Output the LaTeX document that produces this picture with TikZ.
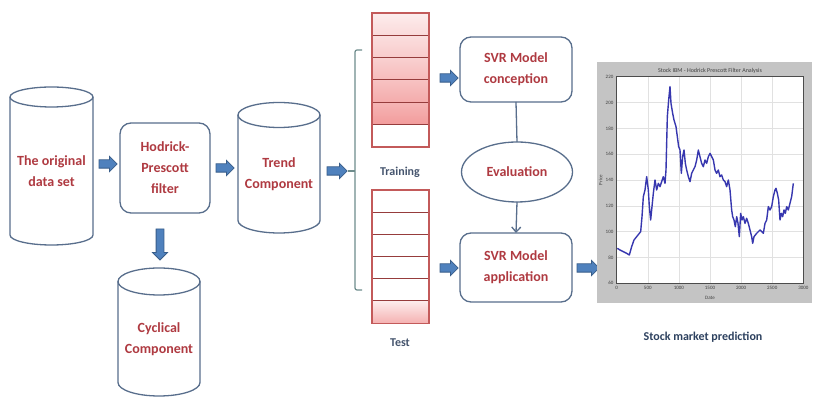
\documentclass[tikz,border=0pt]{standalone}
\usepackage{fontspec}
\setmainfont{Carlito}
\usetikzlibrary{shapes.arrows,shapes.geometric,calc,arrows.meta}
\definecolor{boxline}{RGB}{88,110,140}
\definecolor{txtred}{RGB}{175,58,65}
\definecolor{arrfill}{RGB}{79,129,189}
\definecolor{arrline}{RGB}{56,93,138}
\definecolor{lbl}{RGB}{70,85,110}
\definecolor{smpc}{RGB}{45,65,95}
\definecolor{brk}{RGB}{110,140,140}
\definecolor{stkline}{RGB}{195,90,90}
\definecolor{stksep}{RGB}{150,60,60}
\definecolor{pinkdark}{RGB}{235,100,100}
\definecolor{chartbg}{RGB}{196,196,196}
\definecolor{chartblue}{RGB}{55,55,175}
\definecolor{gridc}{RGB}{225,225,225}
\newcommand\mycyl[3]{%
  \draw[cylline] (#1.north west) -- ($(#1.south west)+(0,#3)$)
    arc[start angle=180,end angle=360,x radius=#2,y radius=#3] -- (#1.north east);
  \draw[cylline] (#1.north) ellipse[x radius=#2, y radius=#3];
}
\newcommand\shaft[1]{\rule{0pt}{#1}}
\tikzset{
  every node/.style={inner sep=0pt, outer sep=0pt},
  lbltext/.style={font=\fontsize{14}{21}\selectfont\bfseries, text=txtred, align=center},
  procbox/.style={lbltext, draw=boxline, line width=1.3pt, rounded corners=11pt, fill=white},
  cylbody/.style={lbltext},
  cylline/.style={draw=boxline, line width=1.3pt},
  blockarrow/.style={single arrow, draw=arrline, fill=arrfill, line width=0.8pt,
    single arrow head extend=3.5pt, inner sep=0pt},
  stackrow/.style={draw=stksep, line width=1pt, minimum width=57pt, minimum height=22.33pt},
  caption/.style={font=\fontsize{12}{14}\selectfont\bfseries, text=lbl},
  ticklab/.style={font=\fontsize{5}{5}\selectfont, text=black!75},
  thinconn/.style={draw=boxline, line width=1.3pt},
}
\begin{document}
\begin{tikzpicture}[x=1pt,y=1pt]
\useasboundingbox (0,0) rectangle (817,398);
\fill[white] (0,0) rectangle (817,398);

% cylinders
\node[cylbody, minimum width=83pt, minimum height=148pt] (orig) at (51.5,227) {The original\\data set};
\mycyl{orig}{41.5pt}{10pt}
\node[cylbody, minimum width=82pt, minimum height=118pt] (trend) at (279,224) {Trend\\Component};
\mycyl{trend}{41pt}{12.5pt}
\node[cylbody, minimum width=82pt, minimum height=114.5pt] (cyc) at (159,59.25) {Cyclical\\Component};
\mycyl{cyc}{41pt}{13.5pt}

% boxes
\node[procbox, minimum width=90pt, minimum height=90pt] (hp) at (165,230) {Hodrick-\\Prescott\\filter};
\node[procbox, minimum width=112pt, minimum height=65pt] (conc) at (516,328.5) {SVR Model\\conception};
\node[lbltext, ellipse, draw=boxline, line width=1.3pt, minimum width=111pt, minimum height=60pt] (eval) at (517,226) {Evaluation};
\node[procbox, minimum width=112pt, minimum height=69pt] (app) at (516,130.5) {SVR Model\\application};

% block arrows
\node[blockarrow, minimum height=18pt] (a1) at (106,234) {\shaft{7.5pt}};
\node[blockarrow, minimum height=18pt] (a2) at (223,230) {\shaft{7.5pt}};
\node[blockarrow, minimum height=31pt, rotate=-90] (a3) at (160,155.5) {\shaft{7pt}};
\node[blockarrow, minimum height=20pt] (a4) at (335,227) {\shaft{7.5pt}};
\node[blockarrow, minimum height=18pt] (a5) at (447,320) {\shaft{7.5pt}};
\node[blockarrow, minimum height=18pt] (a6) at (447,130) {\shaft{7.5pt}};
\node[blockarrow, minimum height=22pt] (a7) at (586,130) {\shaft{7.5pt}};

% bracket
\coordinate (brTop) at (362,348);
\coordinate (brTopC) at (355,348);
\coordinate (brBotC) at (355,108);
\coordinate (brBot) at (362,108);
\coordinate (brMid) at (355,227);
\coordinate (brMidL) at (348,227);
\draw[brk, line width=1.2pt, rounded corners=2pt] (brTop) -- (brTopC) -- (brBotC) -- (brBot);
\draw[brk, line width=1.2pt] (brMid) -- (brMidL);

% training stack
\foreach \i in {1,...,5}{
  \pgfmathtruncatemacro\ptop{12+9*(\i-1)}
  \pgfmathtruncatemacro\pbot{24+10*(\i-1)}
  \node[stackrow, top color=pinkdark!\ptop!white, bottom color=pinkdark!\pbot!white] (tr\i) at (400.5,{385-22.333*(\i-0.5)}) {};
}
\node[stackrow, fill=white] (tr6) at (400.5,{385-22.333*5.5}) {};
\draw[stkline, line width=1.1pt] (tr1.north west) rectangle (tr6.south east);
% test stack
\foreach \i in {1,...,5}{
  \node[stackrow, fill=white, minimum height=22.2pt] (te\i) at (400.5,{208-22.2*(\i-0.5)}) {};
}
\node[stackrow, minimum height=22.2pt, top color=pinkdark!12!white, bottom color=pinkdark!50!white] (te6) at (400.5,{208-22.2*5.5}) {};
\draw[stkline, line width=1.1pt] (te1.north west) rectangle (te6.south east);

\node[caption] (trlab) at (400,226) {Training};
\node[caption] (testlab) at (400,55) {Test};

% connectors
\draw[thinconn] (conc.south) -- (eval.north);
\draw[thinconn, -{Straight Barb[length=5pt,width=9pt]}] (eval.south) -- (app.north);

% chart
\begin{scope}[shift={(590pt,348pt)}, x=0.33333pt, y=-0.33333pt]
  \node[fill=chartbg, minimum width=215pt, minimum height=241.7pt] (chart) at (342.5,397.5) {};
  \node[fill=white, minimum width=186.67pt, minimum height=206.67pt] (plotarea) at (360,390) {};
  \foreach \k in {1,...,7} \draw[gridc, line width=0.4pt] (80,{80+77.5*\k}) -- (640,{80+77.5*\k});
  \foreach \k in {1,...,5} \draw[gridc, line width=0.4pt] ({80+93.333*\k},80) -- ({80+93.333*\k},700);
  \draw[black!70, line width=0.4pt] (plotarea.south west) rectangle (plotarea.north east);
  \foreach \v [count=\k from 0] in {220,200,180,160,140,120,100,80,60}
    \node[ticklab, anchor=east] (yt\k) at (70,{80+77.5*\k}) {\v};
  \foreach \v [count=\k from 0] in {0,500,1000,1500,2000,2500,3000}
    \node[ticklab, anchor=north] (xt\k) at ({80+93.333*\k},708) {\v};
  \node[ticklab] (xlab) at (360,745) {Date};
  \node[ticklab, rotate=90] (ylab) at (32,390) {Price};
  \node[font=\fontsize{6}{6}\selectfont, text=black!75, anchor=south] (ctitle) at (360,70) {Stock IBM - Hodrick Prescott Filter Analysis};
  \draw[chartblue, line width=1.4pt, line join=round] plot[sharp plot] coordinates {
    (82,595) (90,600) (100,605) (110,610) (118,615) (125,590) (132,570) (140,560)
    (148,550) (152,545) (156,500) (160,440) (165,420) (170,380) (175,420) (178,470)
    (182,510) (186,470) (190,430) (195,390) (200,420) (205,400) (210,410) (215,395)
    (220,380) (225,400) (228,360) (232,200) (236,150) (240,110) (243,160) (248,190)
    (252,210) (258,230) (262,260) (266,290) (270,300) (274,370) (278,320) (282,300)
    (286,340) (290,360) (295,380) (300,395) (305,370) (310,360) (315,350) (320,330)
    (325,300) (330,320) (335,340) (340,350) (345,330) (350,340) (355,320) (360,310)
    (365,320) (370,330) (375,360) (380,370) (385,360) (390,380) (395,375) (400,390)
    (405,395) (410,410) (415,390) (420,420) (425,480) (428,500) (432,510) (436,530)
    (440,500) (444,520) (448,560) (452,490) (456,510) (460,500) (465,520) (470,505)
    (475,520) (480,540) (485,560) (488,580) (492,560) (496,555) (500,550) (505,545)
    (510,540) (515,545) (520,550) (525,520) (530,510) (535,470) (540,480) (545,470)
    (550,440) (555,420) (558,415) (562,430) (566,450) (570,510) (574,490) (578,500)
    (582,480) (586,490) (590,470) (595,480) (600,460) (605,440) (610,400)};
\end{scope}
\node[font=\fontsize{12}{14}\selectfont\bfseries, text=smpc] (smp) at (703,61) {Stock market prediction};
\end{tikzpicture}
\end{document}
